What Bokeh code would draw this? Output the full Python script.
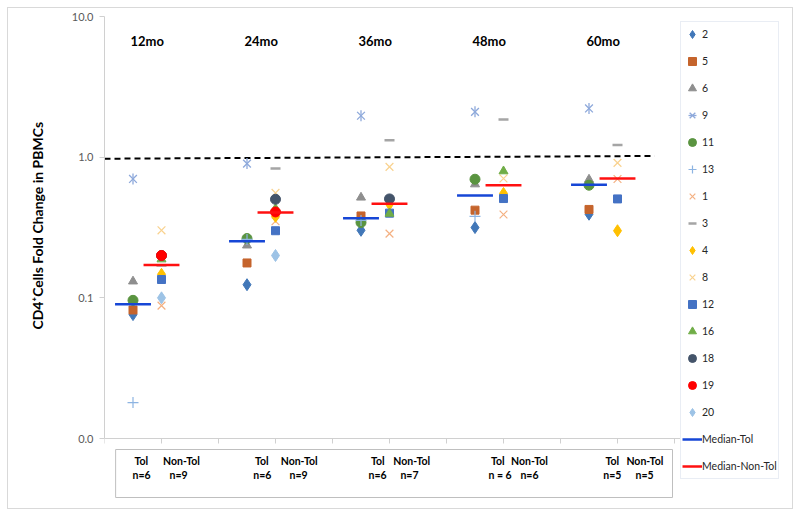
import math
from bokeh.plotting import figure
from bokeh.models import (Range1d, FixedTicker, PrintfTickFormatter, CustomJSTickFormatter,
                          Legend, LegendItem, ColumnDataSource, LinearScale)
from bokeh.core.properties import value
from bokeh.embed import file_html
from bokeh.resources import INLINE

# ---------------- data ----------------
timepoints = ["12mo", "24mo", "36mo", "48mo", "60mo"]
tol_x = [1, 5, 9, 13, 17]          # category slots of the tolerant groups
nontol_x = [2, 6, 10, 14, 18]      # category slots of the non-tolerant groups

# tolerant subjects
s2 = [0.076, 0.124, 0.302, 0.316, 0.393]
s5 = [0.082, 0.177, 0.382, 0.420, 0.425]
s6 = [0.131, 0.236, 0.517, 0.642, 0.694]
s9 = [0.70, 0.90, 1.97, 2.10, 2.22]
s11 = [0.096, 0.264, 0.343, 0.697, 0.632]
s13 = [0.018, 0.260, 0.355, 0.380, None]
# non-tolerant subjects
s1 = [0.088, 0.350, 0.286, 0.391, 0.700]
s3 = [0.170, 0.830, 1.320, 1.850, 1.220]
s4 = [0.147, 0.380, 0.463, 0.552, 0.300]
s8 = [0.302, 0.557, 0.853, 0.705, 0.911]
s12 = [0.135, 0.300, 0.400, 0.508, 0.505]
s16 = [0.188, 0.431, 0.397, 0.795, None]
s18 = [0.200, 0.502, 0.505, None, None]
s19 = [0.200, 0.408, None, None, None]
s20 = [0.100, 0.200, None, None, None]

median_tol = [0.090, 0.252, 0.368, 0.535, 0.636]
median_nontol = [0.171, 0.404, 0.467, 0.632, 0.705]

ref_x = [0, 19.3]
ref_y = [0.975, 1.02]

group_labels = ["Tol", "Non-Tol"]
tol_n = ["n=6", "n=6", "n=6", "n = 6", "n=5"]
nontol_n = ["n=9", "n=9", "n=7", "n=6", "n=5"]
y_ticks = [0.01, 0.1, 1, 10]

# ---------------- layout helpers (not data) ----------------
X_END = 20.2                      # end of the category axis
PX_PER_UNIT = 28.5
FRAME_W, FRAME_H = 688, 492
Y_TOP = 10.0
DECADE_PX = 140.67
Y_BOTTOM = 10 ** (math.log10(Y_TOP) - FRAME_H / DECADE_PX)

FONT = "Lato"
p = figure(frame_width=FRAME_W, frame_height=FRAME_H, output_backend="svg", toolbar_location=None,
           x_range=Range1d(0, FRAME_W / PX_PER_UNIT), y_range=Range1d(Y_BOTTOM, Y_TOP),
           y_axis_type="log",
           min_border_left=96, min_border_top=8, min_border_bottom=0, min_border_right=0)
# pixel range (top of frame = 0) for the annotation texts and box
p.extra_y_ranges = {"px": Range1d(FRAME_H, 0)}
p.extra_y_scales = {"px": LinearScale()}
p.styles = {"border": "1px solid #D9D9D9", "margin": "7px"}
p.background_fill_color = "white"
p.border_fill_color = "white"
p.outline_line_color = None
p.xgrid.visible = False
p.ygrid.visible = False

# axes
yax = p.yaxis[0]
yax.bounds = (y_ticks[0], y_ticks[-1])
yax.ticker = FixedTicker(ticks=y_ticks, minor_ticks=[])
yax.formatter = PrintfTickFormatter(format="%.1f")
yax.major_label_text_font = FONT
yax.major_label_text_font_size = "11px"
yax.major_label_text_color = "#595959"
yax.axis_line_color = "#D0D0D0"
yax.major_tick_line_color = "#D0D0D0"
yax.major_tick_out = 5
yax.major_tick_in = 0
yax.minor_tick_line_color = None
yax.major_label_standoff = 6
yax.axis_label = "\u2003" * 7 + "CD4\u207aCells Fold Change in PBMCs"
yax.axis_label_text_font = FONT
yax.axis_label_text_font_style = "bold"
yax.axis_label_text_font_size = "14px"
yax.axis_label_text_color = "#000000"
yax.axis_label_standoff = 23

xax = p.xaxis[0]
xax.fixed_location = y_ticks[0]
xax.bounds = (0, X_END)
xax.ticker = FixedTicker(ticks=list(range(0, 21, 2)), minor_ticks=[])
xax.formatter = CustomJSTickFormatter(code="return ''")
xax.axis_line_color = "#D0D0D0"
xax.major_tick_line_color = "#D0D0D0"
xax.major_tick_out = 5
xax.major_tick_in = 0
xax.minor_tick_line_color = None
xax.major_label_text_font_size = "1px"

# reference dashed line
p.line(ref_x, ref_y, line_color="black", line_width=2, line_dash="6 4")

def pts(xs, vals):
    xx = [x for x, v in zip(xs, vals) if v is not None]
    yy = [v for v in vals if v is not None]
    return xx, yy

series = [
    ("2", s2, tol_x, "diamond", "#4177B8", 12, True),
    ("5", s5, tol_x, "square", "#C5642C", 8, True),
    ("6", s6, tol_x, "triangle", "#8E8E8E", 9, True),
    ("9", s9, tol_x, "star9", "#8EA9DB", 11, False),
    ("11", s11, tol_x, "circle", "#5A9440", 10, True),
    ("13", s13, tol_x, "cross", "#8DB4E2", 11, False),
    ("1", s1, nontol_x, "x", "#F4B183", 11, False),
    ("3", s3, nontol_x, "dash", "#A5A5A5", 10, False),
    ("4", s4, nontol_x, "diamond", "#FFC000", 12, True),
    ("8", s8, nontol_x, "x", "#F9D28F", 11, False),
    ("12", s12, nontol_x, "square", "#4472C4", 8, True),
    ("16", s16, nontol_x, "triangle", "#70AD47", 9, True),
    ("18", s18, nontol_x, "circle", "#44546A", 10, True),
    ("19", s19, nontol_x, "circle", "#FF0000", 10, True),
    ("20", s20, nontol_x, "diamond", "#9DC3E6", 12, True),
]

items = []
for name, vals, xs, marker, color, size, filled in series:
    xx, yy = pts(xs, vals)
    src = ColumnDataSource(dict(x=xx, y=yy))
    if marker == "star9":
        r1 = p.scatter("x", "y", source=src, marker="x", size=size, line_color=color, line_width=1.3)
        r2 = p.scatter("x", "y", source=src, marker="dash", size=size, angle=math.pi / 2,
                       line_color=color, line_width=1.3)
        rs = [r1, r2]
    elif filled:
        rs = [p.scatter("x", "y", source=src, marker=marker, size=size, fill_color=color,
                        line_color=color, line_width=1)]
    elif marker == "dash":
        rs = [p.scatter("x", "y", source=src, marker=marker, size=size, line_color=color,
                        line_width=2.5)]
    else:
        rs = [p.scatter("x", "y", source=src, marker=marker, size=size, line_color=color,
                        line_width=1.2)]
    items.append(LegendItem(label=name, renderers=rs))

half = 0.63
rm1 = p.segment([x - half for x in tol_x], median_tol, [x + half for x in tol_x], median_tol,
                line_color="#1646D6", line_width=2.5)
rm2 = p.segment([x - half for x in nontol_x], median_nontol, [x + half for x in nontol_x],
                median_nontol, line_color="#FF1010", line_width=2.5)
items.append(LegendItem(label="Median-Tol", renderers=[rm1]))
items.append(LegendItem(label="Median-Non-Tol", renderers=[rm2]))

# timepoint titles
title_x = [(a + b) / 2 for a, b in zip(tol_x, nontol_x)]
p.text(title_x, [24] * len(title_x), text=timepoints, y_range_name="px",
       text_font=value(FONT), text_font_style="bold", text_font_size="13px",
       text_align="center", text_baseline="middle", text_color="#000000")

# bottom group labels inside a box under the axis
tol_lab_x = [1.29, 5.52, 9.59, 13.80, 17.82]
nontol_lab_x = [2.70, 6.83, 10.78, 14.91, 18.96]
tol_n_x = [1.30, 5.54, 9.58, 13.88, 17.82]
nontol_n_x = [2.60, 6.81, 10.70, 14.91, 18.95]
lab_x = tol_lab_x + nontol_lab_x + tol_n_x + nontol_n_x
lab_t = ([group_labels[0]] * 5 + [group_labels[1]] * 5 + tol_n + nontol_n)
lab_y = [444] * 10 + [458] * 10
p.text(lab_x, lab_y, text=lab_t, y_range_name="px", text_font=value(FONT),
       text_font_style="bold", text_font_size="10.5px", text_align="center",
       text_baseline="middle", text_color="#000000")
p.quad(left=[0.39], right=[19.93], top=[433], bottom=[481], y_range_name="px",
       fill_alpha=0, line_color="#BFBFBF", line_width=1)

legend = Legend(items=items, location=(576, 29))
legend.margin = 0
legend.padding = 1
legend.spacing = 5
legend.glyph_width = 20
legend.glyph_height = 22
legend.label_height = 22
legend.label_standoff = 0
legend.label_text_font = FONT
legend.label_text_font_size = "10.5px"
legend.label_text_color = "#262626"
legend.border_line_color = "#D3DCEA"
legend.border_line_width = 1
legend.background_fill_color = "white"
legend.label_width = 70
p.add_layout(legend, "center")

open("out.html", "w").write(file_html(p, INLINE))
